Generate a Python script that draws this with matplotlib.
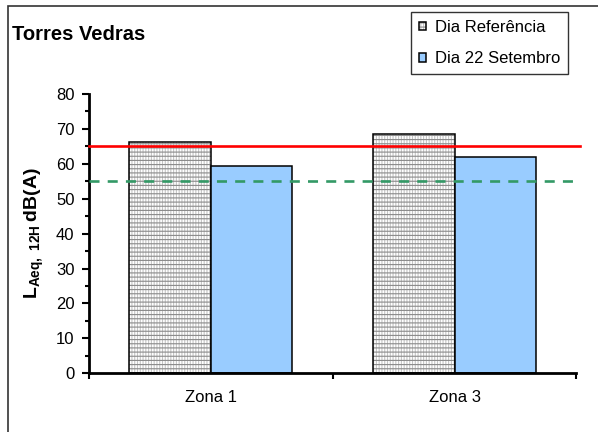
import matplotlib
matplotlib.use("Agg")
import matplotlib.pyplot as plt
from matplotlib.patches import Rectangle
import numpy as np

plt.rcParams['font.family'] = ['Liberation Sans', 'DejaVu Sans']
plt.rcParams['mathtext.fontset'] = 'custom'
plt.rcParams['mathtext.bf'] = 'Liberation Sans:bold'
plt.rcParams['mathtext.rm'] = 'Liberation Sans'
plt.rcParams['hatch.linewidth'] = 0.8

# dados
zonas = ['Zona 1', 'Zona 3']
dia_referencia = [66.2, 68.6]
dia_22_setembro = [59.5, 62.0]
limite_1 = 65   # linha vermelha
limite_2 = 55   # linha verde tracejada
yticks = [0, 10, 20, 30, 40, 50, 60, 70, 80]

W, H = 598, 432
fig = plt.figure(figsize=(W / 100, H / 100), dpi=100)
ax = fig.add_axes([89 / W, 1 - 373.3 / H, 487.4 / W, 279.3 / H])

# moldura exterior
fig.patches.append(Rectangle((8 / W, -0.1), 1.2, 1 - 6 / H + 0.1, transform=fig.transFigure,
                             fill=False, edgecolor='#333333', linewidth=1.2, clip_on=False))

x = np.arange(len(zonas))
w = 0.334
# barra quadriculada: 3 camadas (riscas verticais claras, horizontais escuras, contorno)
b1 = ax.bar(x - w / 2, dia_referencia, w, color='white', edgecolor='#c4c4c4', linewidth=0,
            hatch='||||||', zorder=2)
b2 = ax.bar(x - w / 2, dia_referencia, w, color='none', edgecolor='#8a8a8a', linewidth=0,
            hatch='----', zorder=2)
b3 = ax.bar(x - w / 2, dia_referencia, w, color='none', edgecolor='black', linewidth=1.1, zorder=2)
b4 = ax.bar(x + w / 2, dia_22_setembro, w, color='#99ccff', edgecolor='black', linewidth=1.1, zorder=2)

ax.axhline(limite_1, xmin=0, xmax=1.0066, color='#ff0000', linewidth=1.9, clip_on=False, zorder=3)
ax.axhline(limite_2, xmin=0, xmax=1.0066, color='#339966', linewidth=1.9,
           linestyle=(0, (3.8, 3.1)), clip_on=False, zorder=3)

ax.set_xlim(-0.5, 1.5)
ax.set_ylim(0, 80)
ax.set_yticks(yticks)
ax.set_yticks(np.arange(5, 80, 10), minor=True)
ax.set_xticks([-0.5, 0.5, 1.5])
ax.set_xticklabels([])
ax.set_xticks(x, minor=True)
ax.set_xticklabels(zonas, minor=True)
ax.tick_params(axis='x', which='major', direction='out', length=4, width=1.5)
ax.tick_params(axis='x', which='minor', length=0, pad=12, labelsize=12)
ax.tick_params(axis='y', which='major', direction='out', length=5, width=1.5, labelsize=12, pad=5.5)
ax.tick_params(axis='y', which='minor', direction='out', length=3, width=1.5)

for s in ['top', 'right']:
    ax.spines[s].set_visible(False)
for s in ['left', 'bottom']:
    ax.spines[s].set_linewidth(2)

fig.text(34 / W, 1 - 233 / H, r'$\mathbf{L}_{\mathbf{Aeq,\ 12H}}\,\mathbf{dB(A)}$', fontsize=14,
         rotation=90, ha='center', va='center')

fig.text(12 / W, 1 - 34 / H, 'Torres Vedras', fontsize=14.5, fontweight='bold', va='center', ha='left')

leg = ax.legend([(b1[0], b2[0], b3[0]), b4[0]], ['Dia Referência', 'Dia 22 Setembro'],
                loc='upper right', bbox_to_anchor=(567.7 / W, 1 - 12.3 / H), bbox_transform=fig.transFigure,
                fancybox=False, framealpha=1, edgecolor='#333333', fontsize=12, borderaxespad=0,
                handlelength=0.42, handleheight=0.42, handletextpad=0.55, labelspacing=1.0,
                borderpad=0.45)
leg.get_frame().set_linewidth(1.0)

fig.savefig('out.png', dpi=100)
